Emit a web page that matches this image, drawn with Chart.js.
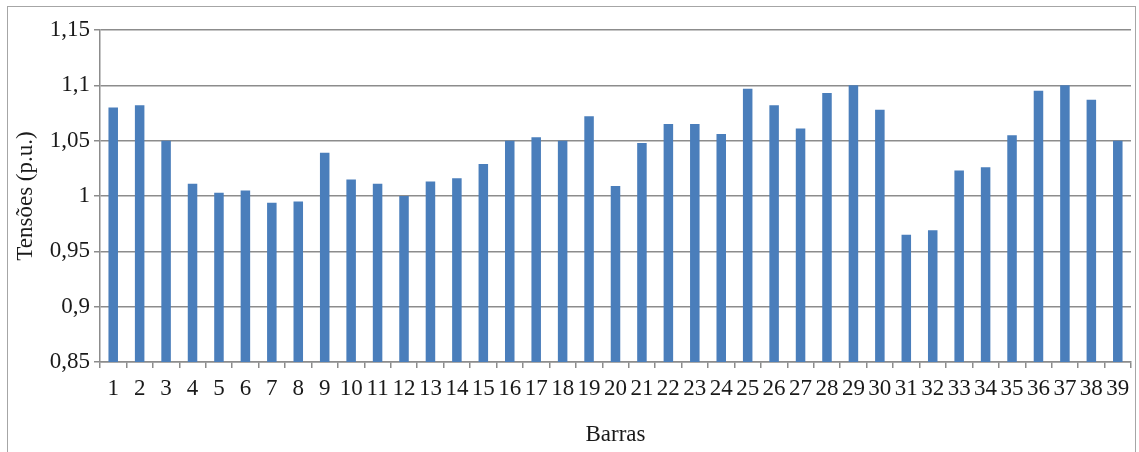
<!DOCTYPE html>
<html>
<head>
<meta charset="utf-8">
<script src="https://cdn.jsdelivr.net/npm/chart.js@4/dist/chart.umd.min.js"></script>
<style>
  body { margin: 0; background: #fff; }
  #wrap { position: relative; width: 1139px; height: 452px; }
  #frame { position: absolute; left: 7px; top: 6px; width: 1129px; height: 450px;
           border: 1px solid #a6a6a6; box-sizing: border-box; pointer-events: none; }
</style>
</head>
<body>
<div id="wrap">
  <canvas id="chart" width="1139" height="452"></canvas>
  <div id="frame"></div>
</div>
<script>
// bus numbers and voltages
const barras = ['1','2','3','4','5','6','7','8','9','10','11','12','13','14','15','16','17','18','19','20',
                '21','22','23','24','25','26','27','28','29','30','31','32','33','34','35','36','37','38','39'];
const tensoes = [1.080, 1.082, 1.050, 1.011, 1.003, 1.005, 0.994, 0.995, 1.039, 1.015,
                 1.011, 1.000, 1.013, 1.016, 1.029, 1.050, 1.053, 1.050, 1.072, 1.009,
                 1.048, 1.065, 1.065, 1.056, 1.097, 1.082, 1.061, 1.093, 1.100, 1.078,
                 0.965, 0.969, 1.023, 1.026, 1.055, 1.095, 1.100, 1.087, 1.050];
const yMin = 0.85, yMax = 1.15, yStep = 0.05;

const serif = 'Liberation Serif';
const grey = '#8c8c8c';
const ink = '#1a1a1a';

new Chart(document.getElementById('chart'), {
  type: 'bar',
  data: {
    labels: barras,
    datasets: [{
      data: tensoes,
      backgroundColor: '#4a7ebb',
      barPercentage: 0.36,
      categoryPercentage: 1.0
    }]
  },
  options: {
    responsive: false,
    animation: false,
    layout: { padding: { left: 10, right: 8, top: 30, bottom: 3 } },
    plugins: { legend: { display: false }, tooltip: { enabled: false } },
    scales: {
      x: {
        offset: true,
        grid: { display: true, offset: true, drawOnChartArea: false, drawTicks: true,
                tickLength: 6, color: grey, lineWidth: 1.5 },
        border: { display: true, color: grey, width: 1.5 },
        ticks: { autoSkip: false, maxRotation: 0, minRotation: 0, padding: 7,
                 color: ink, font: { family: serif, size: 23 } },
        title: { display: true, text: 'Barras', color: ink,
                 font: { family: serif, size: 23 }, padding: 0 },
        afterFit: s => { s.height = 87; }
      },
      y: {
        min: yMin, max: yMax,
        grid: { color: grey, lineWidth: 1.5, tickLength: 6, drawTicks: true },
        border: { display: true, color: grey, width: 1.5 },
        ticks: { stepSize: yStep, padding: 4, color: ink,
                 font: { family: serif, size: 23 },
                 callback: v => String(Math.round(v * 100) / 100).replace('.', ',') },
        title: { display: true, text: 'Tensões (p.u.)', color: ink,
                 font: { family: serif, size: 23 }, padding: 2 },
        afterFit: s => { s.width = 90; }
      }
    }
  }
});
</script>
</body>
</html>
